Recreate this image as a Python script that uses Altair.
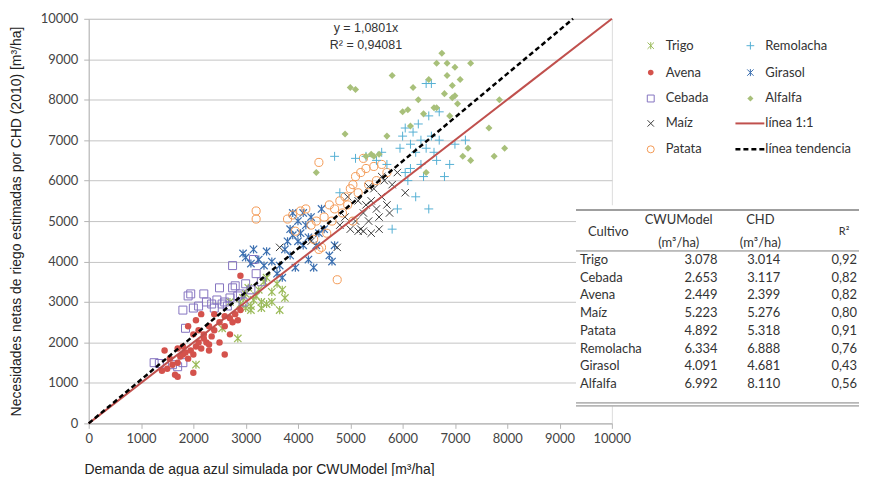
import altair as alt
import pandas as pd

# ---------------- data ----------------
trigo_x = [2050, 2550, 2850, 3000, 3100, 3200, 3300, 3400, 3650, 3700, 3600, 3400, 3150, 2950, 3250, 3500, 3050, 3350, 2900, 3750, 3100, 2700, 3000, 3300, 3500]
trigo_y = [1450, 2350, 2100, 2850, 2800, 3150, 3000, 2950, 2800, 3300, 3450, 3600, 3050, 3100, 3300, 3250, 3350, 3500, 2950, 3100, 2900, 3000, 3200, 2850, 3000]

avena_x = [1400, 1500, 1600, 1650, 1700, 1750, 1800, 1850, 1900, 1950, 2000, 1800, 2050, 2100, 2150, 2200, 2250, 2300, 2000, 2100, 2200, 2350, 2400, 2500, 2600, 2700, 2800, 2750, 2900, 2850, 2600, 1700, 2000, 2300, 2500, 2600, 2700, 1450, 1550, 1700, 2050, 2400, 2900, 2300, 1900, 2150]
avena_y = [1300, 1350, 1450, 1200, 1500, 1650, 1700, 1750, 1600, 1800, 1700, 1900, 1900, 2000, 1850, 2100, 2000, 1950, 2200, 2300, 2200, 2150, 2300, 2500, 2400, 2600, 2700, 2500, 2800, 2550, 2650, 1150, 1250, 1800, 2000, 1700, 2200, 1800, 1600, 1850, 2550, 2700, 3650, 2400, 2400, 2700]

cebada_x = [1250, 1350, 1600, 1700, 1800, 1850, 1800, 1900, 2000, 2100, 2200, 2250, 2350, 2450, 2500, 2550, 2600, 2700, 2750, 2800, 2850, 2900, 3000, 3100, 3200, 2750, 3150, 2650, 2950, 3300, 2400, 1950]
cebada_y = [1500, 1480, 1450, 1400, 1500, 2350, 2800, 3150, 2850, 2900, 3200, 3000, 2950, 3050, 3350, 2950, 3000, 3100, 3350, 3400, 3150, 3200, 3450, 3300, 3700, 3900, 4050, 2900, 3000, 3500, 2850, 3200]

maiz_x = [3650, 4250, 4750, 4800, 4900, 5000, 5100, 5150, 5200, 5250, 5300, 5350, 5400, 5450, 5500, 5550, 5550, 5600, 5650, 5700, 5800, 5900, 6050, 5250, 5400, 4950, 5150, 5600, 5750, 5350]
maiz_y = [4350, 4500, 4350, 4900, 5100, 4800, 5000, 4750, 4800, 5200, 5400, 5000, 5500, 5800, 5300, 4800, 5100, 5600, 6000, 5400, 5900, 6200, 5700, 4750, 4700, 5600, 5500, 6100, 5200, 5850]

patata_x = [3200, 3200, 3800, 3950, 4050, 4150, 4250, 4300, 4400, 4450, 4400, 4500, 4600, 4700, 4750, 4800, 4900, 4950, 5000, 5050, 5100, 5150, 5200, 5300, 5350, 5450, 5600, 5700, 4650, 4850, 5050, 5250, 5500, 4550, 4350, 3900]
patata_y = [5250, 5050, 5050, 4750, 5250, 5300, 4900, 4550, 4300, 4350, 6450, 5100, 5400, 5300, 3550, 5500, 5600, 5400, 5800, 5900, 6100, 5700, 6200, 6300, 5900, 6350, 6400, 6200, 5000, 5200, 5000, 6550, 6000, 4700, 5000, 5150]

remolacha_x = [4700, 4800, 5100, 5300, 5500, 5700, 5800, 5900, 5950, 6000, 6050, 6100, 6150, 6200, 6250, 6300, 6350, 6400, 6450, 6500, 6500, 6550, 6550, 6600, 6650, 6700, 6800, 6900, 7000, 7200, 6350, 6450, 6150, 5600, 6250, 6700, 6050]
remolacha_y = [6600, 5700, 6550, 6600, 6500, 6400, 4800, 5300, 6800, 7100, 7300, 6000, 6900, 7200, 6700, 7400, 6400, 6100, 8400, 5300, 7600, 8400, 7100, 6700, 6500, 7000, 6100, 6400, 6900, 7000, 7000, 6800, 6300, 6700, 5600, 7700, 6200]

girasol_x = [2950, 3000, 3100, 3150, 3250, 3350, 3400, 3500, 3600, 3700, 3750, 3800, 3850, 3900, 3950, 4000, 4050, 4100, 4150, 4200, 4250, 4300, 4350, 4400, 4450, 4500, 4600, 4650, 4700, 3900, 4100, 3850, 4200, 3650, 4000]
girasol_y = [4200, 4100, 3950, 4300, 4050, 3900, 4250, 4000, 3700, 3600, 4300, 4500, 4800, 4650, 3850, 5000, 4700, 5200, 4900, 4600, 5100, 3850, 4400, 4700, 5300, 4800, 4150, 4000, 4400, 5200, 4400, 4150, 4050, 3900, 4500]

alfalfa_x = [4350, 4900, 5000, 5100, 5300, 5400, 5450, 5550, 5700, 5800, 6000, 6100, 6150, 6300, 6400, 6450, 6600, 6650, 6650, 6750, 6800, 6850, 6900, 6950, 6950, 7000, 7050, 7100, 7150, 7250, 7300, 7300, 7650, 7750, 7850, 7950, 6500, 6850, 7000, 6200]
alfalfa_y = [6200, 7150, 8300, 8250, 6600, 6650, 6600, 6650, 7100, 8600, 7700, 7750, 7350, 8000, 7650, 6200, 7800, 8900, 7800, 9150, 8150, 8900, 7600, 8050, 8350, 8100, 7900, 8500, 6600, 6800, 8900, 6500, 7300, 6600, 8000, 6800, 8500, 8600, 8800, 8300]

tendencia_slope = 1.0801
tendencia_r2 = "0,94081"

tabla_cultivo = ["Trigo", "Cebada", "Avena", "Maíz", "Patata", "Remolacha", "Girasol", "Alfalfa"]
tabla_cwu = ["3.078", "2.653", "2.449", "5.223", "4.892", "6.334", "4.091", "6.992"]
tabla_chd = ["3.014", "3.117", "2.399", "5.276", "5.318", "6.888", "4.681", "8.110"]
tabla_r2 = ["0,92", "0,82", "0,82", "0,80", "0,91", "0,76", "0,43", "0,56"]

legend_col1 = ["Trigo", "Avena", "Cebada", "Maíz", "Patata"]
legend_col2 = ["Remolacha", "Girasol", "Alfalfa", "línea 1:1", "línea tendencia"]

# ---------------- styles ----------------
P_X = "M-1,-1L1,1M-1,1L1,-1"
P_PLUS = "M-1,0L1,0M0,-1L0,1"
P_STAR = "M-1,-1L1,1M-1,1L1,-1M0,-1.1L0,1.1"

styles = {
    "Trigo": dict(shape=P_STAR, color="#9bbb59", filled=False, size=55, strokeWidth=1.2),
    "Avena": dict(shape="circle", color="#d4524c", filled=True, size=42),
    "Cebada": dict(shape="square", color="#8573c0", filled=False, size=64, strokeWidth=1),
    "Maíz": dict(shape=P_X, color="#3a3a3a", filled=False, size=55, strokeWidth=1),
    "Patata": dict(shape="circle", color="#f39a55", filled=False, size=66, strokeWidth=1),
    "Remolacha": dict(shape=P_PLUS, color="#55b0d4", filled=False, size=80, strokeWidth=1),
    "Girasol": dict(shape=P_STAR, color="#3b6fb0", filled=False, size=55, strokeWidth=1.2),
    "Alfalfa": dict(shape="diamond", color="#a8c07a", filled=True, size=50),
}

series = [
    ("Trigo", trigo_x, trigo_y),
    ("Cebada", cebada_x, cebada_y),
    ("Avena", avena_x, avena_y),
    ("Girasol", girasol_x, girasol_y),
    ("Maíz", maiz_x, maiz_y),
    ("Patata", patata_x, patata_y),
    ("Remolacha", remolacha_x, remolacha_y),
    ("Alfalfa", alfalfa_x, alfalfa_y),
]

FONT = "Lato"
TFONT = "Liberation Sans"

xs = alt.Scale(domain=[0, 10000], nice=False, zero=True)
ys = alt.Scale(domain=[0, 10000], nice=False, zero=True)
ticks = list(range(0, 10001, 1000))

x_axis = alt.Axis(
    values=ticks, grid=False, format="d", labelOverlap=False, labelBound=False, labelFlush=False,
    title="Demanda de agua azul simulada por CWUModel [m³/ha]",
    titleX=171, titleY=46, titleBaseline="middle", titleAlign="center",
    titleFont=TFONT, titleFontSize=14, titleFontWeight="normal", titleColor="#222222",
    labelFont=FONT, labelFontSize=13, labelColor="#444444", labelPadding=4,
    domainColor="#b5b5b5", tickColor="#b5b5b5", tickSize=5,
)
y_axis = alt.Axis(
    values=ticks, grid=True, gridColor="#c4c4c4", gridWidth=1, format="d",
    labelOverlap=False, labelBound=False, labelFlush=False,
    title="Necesidades netas de riego estimadas por CHD (2010) [m³/ha]",
    titleX=-72, titleY=203, titleBaseline="middle", titleAlign="center", titleAngle=-90,
    titleFont=TFONT, titleFontSize=14, titleFontWeight="normal", titleColor="#222222",
    labelFont=FONT, labelFontSize=13, labelColor="#444444", labelPadding=6,
    domainColor="#b5b5b5", tickColor="#b5b5b5", tickSize=5,
)

layers = []
for name, xv, yv in series:
    df = pd.DataFrame({"x": xv, "y": yv, "cultivo": name})
    st = styles[name]
    kw = dict(shape=st["shape"], size=st["size"], opacity=1, filled=st["filled"])
    if st["filled"]:
        kw["fill"] = st["color"]
        kw["strokeWidth"] = 0
    else:
        kw["stroke"] = st["color"]
        kw["strokeWidth"] = st.get("strokeWidth", 1)
        kw["fillOpacity"] = 0
    layers.append(
        alt.Chart(df).mark_point(**kw).encode(
            x=alt.X("x:Q", scale=xs, axis=x_axis),
            y=alt.Y("y:Q", scale=ys, axis=y_axis),
        )
    )

# 1:1 line and trend line
df11 = pd.DataFrame({"x": [0, 10000], "y": [0, 10000]})
xt_end = 10000 / tendencia_slope
dft = pd.DataFrame({"x": [0, xt_end], "y": [0, tendencia_slope * xt_end]})
layers.append(alt.Chart(df11).mark_line(color="#c0504d", strokeWidth=2).encode(
    x=alt.X("x:Q", scale=xs, axis=x_axis), y=alt.Y("y:Q", scale=ys, axis=y_axis)))
layers.append(alt.Chart(dft).mark_line(color="#000000", strokeWidth=2.5, strokeDash=[5, 3]).encode(
    x=alt.X("x:Q", scale=xs, axis=x_axis), y=alt.Y("y:Q", scale=ys, axis=y_axis)))

# equation
eq = pd.DataFrame({"x": [5300, 5300], "y": [9780, 9360],
                   "t": [f"y = {str(tendencia_slope).replace('.', ',')}x", f"R² = {tendencia_r2}"]})
layers.append(alt.Chart(eq).mark_text(font=TFONT, fontSize=12.5, color="#333333", align="center", baseline="middle").encode(
    x=alt.X("x:Q", scale=xs, axis=x_axis), y=alt.Y("y:Q", scale=ys, axis=y_axis), text="t:N"))

one = pd.DataFrame({"a": [0]})


def text_at(txt, px, py, align="left", size=13, font=FONT, color="#333333"):
    return alt.Chart(one).mark_text(text=txt, font=font, fontSize=size, color=color,
                                    align=align, baseline="middle").encode(
        x=alt.value(px), y=alt.value(py))


def rule_at(x1, x2, py, color="#7f7f7f", w=1.5, dash=None):
    kw = dict(color=color, strokeWidth=w)
    if dash:
        kw["strokeDash"] = dash
    return alt.Chart(one).mark_rule(**kw).encode(x=alt.value(x1), x2=alt.value(x2), y=alt.value(py))


# table background
layers.append(alt.Chart(one).mark_rect(color="white").encode(
    x=alt.value(489), x2=alt.value(776), y=alt.value(187), y2=alt.value(389)))

# legend
row_y = [27, 54, 80, 105, 131]
for i, name in enumerate(legend_col1):
    st = styles[name]
    kw = dict(shape=st["shape"], size=st["size"] * 0.75, opacity=1, filled=st["filled"])
    if st["filled"]:
        kw["fill"] = st["color"]
        kw["strokeWidth"] = 0
    else:
        kw["stroke"] = st["color"]
        kw["strokeWidth"] = 1
        kw["fillOpacity"] = 0
    layers.append(alt.Chart(one).mark_point(**kw).encode(x=alt.value(564), y=alt.value(row_y[i])))
    layers.append(text_at(name, 579, row_y[i]))
for i, name in enumerate(legend_col2):
    if name in styles:
        st = styles[name]
        kw = dict(shape=st["shape"], size=st["size"] * 0.75, opacity=1, filled=st["filled"])
        if st["filled"]:
            kw["fill"] = st["color"]
            kw["strokeWidth"] = 0
        else:
            kw["stroke"] = st["color"]
            kw["strokeWidth"] = 1
            kw["fillOpacity"] = 0
        layers.append(alt.Chart(one).mark_point(**kw).encode(x=alt.value(664), y=alt.value(row_y[i])))
    elif name == "línea 1:1":
        layers.append(rule_at(649, 678, row_y[i], color="#c0504d", w=2))
    else:
        layers.append(rule_at(649, 678, row_y[i], color="#000000", w=2.5, dash=[5, 3]))
    layers.append(text_at(name, 679, row_y[i]))

# table
layers.append(rule_at(489, 773, 192))
layers.append(rule_at(489, 773, 233, w=1))
layers.append(rule_at(489, 773, 385.5, w=1))
layers.append(rule_at(489, 773, 388.5, w=1))
layers.append(text_at("Cultivo", 501, 214))
layers.append(text_at("CWUModel", 592, 202, align="center"))
layers.append(text_at("(m³/ha)", 592, 225, align="center"))
layers.append(text_at("CHD", 674, 202, align="center"))
layers.append(text_at("(m³/ha)", 674, 225, align="center"))
layers.append(text_at("R²", 758, 214, align="center", size=11))
for i in range(len(tabla_cultivo)):
    py = 242 + i * 17.8
    layers.append(text_at(tabla_cultivo[i], 493, py))
    layers.append(text_at(tabla_cwu[i], 631, py, align="right"))
    layers.append(text_at(tabla_chd[i], 694, py, align="right"))
    layers.append(text_at(tabla_r2[i], 771, py, align="right"))

chart = alt.layer(*layers).properties(
    width=525, height=406,
    autosize=alt.AutoSizeParams(type="none"),
    padding={"left": 81, "top": 10, "right": 250, "bottom": 52},
).configure_view(stroke=None).configure(background="white")

chart.save("out.html", embed_options={"renderer": "svg", "actions": False})
